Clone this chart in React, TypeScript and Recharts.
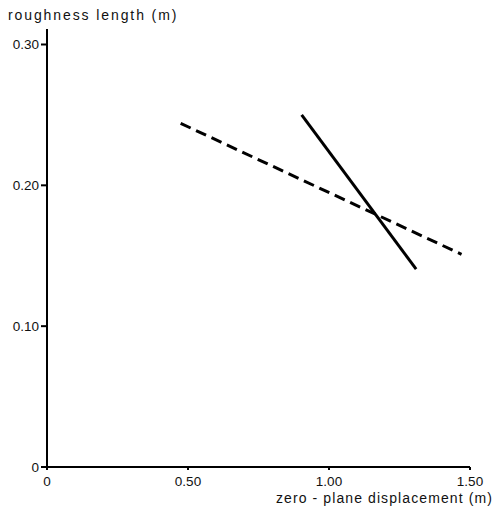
import React from "react";
import { LineChart, Line, XAxis, YAxis } from "recharts";

const xTicks = [0, 0.5, 1.0, 1.5];
const yTicks = [0, 0.1, 0.2, 0.3];
const dashedSeries = [
  { x: 0.474, y: 0.244 },
  { x: 1.47, y: 0.151 },
];
const solidSeries = [
  { x: 0.903, y: 0.25 },
  { x: 1.309, y: 0.1405 },
];
const xTitle = "zero - plane displacement (m)";
const yTitle = "roughness length (m)";

const fmtX = (v: number) => (v === 0 ? "0" : v.toFixed(2));
const fmtY = (v: number) => (v === 0 ? "0" : v.toFixed(2));

const font = "'Liberation Sans', Arial, Helvetica, sans-serif";

export default function App() {
  return (
    <div style={{ position: "absolute", left: 0, top: 0, width: 494, height: 507, background: "#fff", fontFamily: font, overflow: "hidden" }}>
      <LineChart width={494} height={507} margin={{ top: 29, right: 24, bottom: 20, left: 0 }}>
        <XAxis
          dataKey="x"
          type="number"
          domain={[0, 1.5]}
          ticks={xTicks}
          tickFormatter={fmtX}
          allowDataOverflow
          height={20}
          stroke="#000"
          strokeWidth={2}
          tickSize={3}
          tickMargin={6}
          tick={{ fill: "#111", fontSize: 13.5, fontFamily: font }}
        />
        <YAxis
          dataKey="y"
          type="number"
          domain={[0, 0.311]}
          ticks={yTicks}
          tickFormatter={fmtY}
          allowDataOverflow
          width={47}
          stroke="#000"
          strokeWidth={2}
          tickSize={6}
          tickMargin={2}
          tick={{ fill: "#111", fontSize: 13.5, fontFamily: font }}
        />
        <Line
          data={dashedSeries}
          dataKey="y"
          type="linear"
          stroke="#000"
          strokeWidth={3}
          strokeDasharray="11 6"
          dot={false}
          isAnimationActive={false}
        />
        <Line
          data={solidSeries}
          dataKey="y"
          type="linear"
          stroke="#000"
          strokeWidth={3}
          dot={false}
          isAnimationActive={false}
        />
      </LineChart>
      <div style={{ position: "absolute", left: 8, top: 7, fontSize: 14, letterSpacing: 1.9, color: "#111", whiteSpace: "nowrap", lineHeight: "16px" }}>
        {yTitle}
      </div>
      <div style={{ position: "absolute", right: 1, top: 491, fontSize: 14, letterSpacing: 1.1, color: "#111", whiteSpace: "nowrap", lineHeight: "14px" }}>
        {xTitle}
      </div>
    </div>
  );
}
